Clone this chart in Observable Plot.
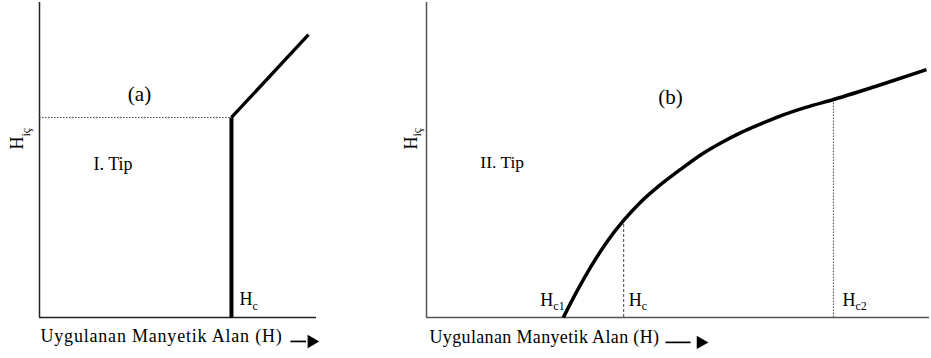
<!DOCTYPE html>
<html>
<head>
<meta charset="utf-8">
<script src="https://cdn.jsdelivr.net/npm/d3@7"></script>
<script src="https://cdn.jsdelivr.net/npm/@observablehq/plot@0.6"></script>
<style>
  body { margin: 0; background: #fff; }
  #row { display: flex; width: 931px; height: 358px; }
  #row svg { display: block; }
  .title-a text { letter-spacing: 0.8px; }
  .title-b text { letter-spacing: 0.35px; }
</style>
</head>
<body>
<div id="row"></div>
<script>
// Type I: internal field is zero up to Hc, then jumps and rises linearly
const typeI_H   = [69.3, 69.3, 97.1];
const typeI_Hic = [0, 63.5, 89.8];
const Hc_I = 69.3, HcI_Hic = 63.5;

// Type II: field starts penetrating at Hc1 and rises smoothly past Hc2
const typeII_H   = [27.2, 30.0, 32.6, 36.0, 39.2, 42.5, 46.1, 50.5, 54.5, 58.5, 62.4, 66.4, 70.4, 75.4, 80.9, 90.3, 99.4];
const typeII_Hic = [0, 8.6, 15.9, 24.3, 30.8, 36.5, 41.6, 47.0, 51.6, 55.4, 58.6, 61.4, 64.0, 66.7, 69.2, 73.9, 78.7];
const Hc1 = 27.2;
const Hc = 39.2, Hc_Hic = 30.8;
const Hc2 = 80.9, Hc2_Hic = 69.2;

// Text
const panelNames = ["(a)", "(b)"];
const typeNames = ["I. Tip", "II. Tip"];
const xTitle = "Uygulanan Manyetik Alan (H)";
const yMain = "H", ySub = "iç";

const ink = "#000";

const typeI = typeI_H.map((h, i) => ({H: h, Hic: typeI_Hic[i]}));
const typeII = typeII_H.map((h, i) => ({H: h, Hic: typeII_Hic[i]}));

const serif = "Liberation Serif";

function base(width, marginLeft, marginRight) {
  return {
    width, height: 358,
    marginLeft, marginRight, marginTop: 2, marginBottom: 41,
    x: {domain: [0, 100], axis: null},
    y: {domain: [0, 100], axis: null},
    style: {fontFamily: serif, fontSize: "17px", color: ink, background: "#fff", overflow: "visible"}
  };
}

const txt = (s, o) => Plot.text([s], {text: d => d, fill: ink, fontFamily: serif, ...o});

// Arrow after the x title: a short shaft with a solid head, in data units below the axis
const titleArrow = (x1, x2, y) => [
  Plot.link([0], {x1, x2: x2 - 2, y1: y, y2: y, stroke: ink, strokeWidth: 1.7}),
  Plot.dot([0], {x: x2, y, symbol: "triangle", rotate: 90, r: 5, fill: ink, stroke: null})
];

// (a) Type I panel
const left = Plot.plot({
  ...base(380, 39, 64),
  marks: [
    Plot.ruleX([0], {stroke: "#222", strokeWidth: 1.5}),
    Plot.ruleY([0], {stroke: "#222", strokeWidth: 1.5}),
    Plot.ruleY([HcI_Hic], {x1: 0, x2: Hc_I, stroke: "#444", strokeWidth: 1, strokeDasharray: "1.5,1.5"}),
    Plot.line(typeI.slice(0, 2), {x: "H", y: "Hic", stroke: ink, strokeWidth: 4, strokeLinecap: "butt"}),
    Plot.line(typeI.slice(1), {x: "H", y: "Hic", stroke: ink, strokeWidth: 3.3, strokeLinecap: "butt"}),
    txt(panelNames[0], {x: 36.1, y: 70.9, fontSize: 21}),
    txt(typeNames[0], {x: 19.5, y: 48.7, textAnchor: "start", fontSize: 18}),
    // Hc label beside the jump
    txt("H", {x: Hc_I, y: 0, dx: 8, dy: -18.4, textAnchor: "start", fontSize: 18}),
    txt("c", {x: Hc_I, y: 0, dx: 21, dy: -11.5, textAnchor: "start", fontSize: 12}),
    // y title
    txt(yMain, {x: 0, y: 53.3, dx: -22.4, rotate: -90, textAnchor: "start", fontSize: 18}),
    txt(ySub, {x: 0, y: 53.3, dx: -13.8, dy: -13, rotate: -90, textAnchor: "start", fontSize: 12}),
    // x title
    txt(xTitle, {frameAnchor: "bottom-left", dx: 1, dy: 24.6, textAnchor: "start", fontSize: 18, className: "title-a"}),
    ...titleArrow(90.6, 98.2, -7.6)
  ]
});

// (b) Type II panel
const right = Plot.plot({
  ...base(551, 46, 2),
  marks: [
    Plot.ruleX([0], {stroke: "#555", strokeWidth: 1.5}),
    Plot.ruleY([0], {stroke: "#555", strokeWidth: 1.5}),
    Plot.ruleX([Hc], {y1: 0, y2: Hc_Hic, stroke: "#444", strokeWidth: 1, strokeDasharray: "3,2"}),
    Plot.ruleX([Hc2], {y1: 0, y2: Hc2_Hic, stroke: "#444", strokeWidth: 1, strokeDasharray: "1.5,1.5"}),
    Plot.line(typeII, {x: "H", y: "Hic", stroke: ink, strokeWidth: 3.5, curve: "monotone-x", strokeLinecap: "butt"}),
    txt(panelNames[1], {x: 48.5, y: 70.0, fontSize: 21}),
    txt(typeNames[1], {x: 10.7, y: 49.3, textAnchor: "start", fontSize: 17.5}),
    // Hc1, Hc, Hc2 labels at the foot of each field
    txt("H", {x: Hc1, y: 0, dx: -23, dy: -17.4, textAnchor: "start", fontSize: 18}),
    txt("c1", {x: Hc1, y: 0, dx: -10, dy: -11.5, textAnchor: "start", fontSize: 12}),
    txt("H", {x: Hc, y: 0, dx: 5, dy: -17.4, textAnchor: "start", fontSize: 18}),
    txt("c", {x: Hc, y: 0, dx: 18, dy: -11.5, textAnchor: "start", fontSize: 12}),
    txt("H", {x: Hc2, y: 0, dx: 9, dy: -17.4, textAnchor: "start", fontSize: 18}),
    txt("c2", {x: Hc2, y: 0, dx: 22, dy: -11.5, textAnchor: "start", fontSize: 12}),
    // y title
    txt(yMain, {x: 0, y: 53.3, dx: -15.4, rotate: -90, textAnchor: "start", fontSize: 18}),
    txt(ySub, {x: 0, y: 53.3, dx: -9, dy: -13, rotate: -90, textAnchor: "start", fontSize: 12}),
    // x title
    txt(xTitle, {frameAnchor: "bottom-left", dx: 3, dy: 25.5, textAnchor: "start", fontSize: 18, className: "title-b"}),
    ...titleArrow(47.5, 54.5, -7.9)
  ]
});

const row = document.getElementById("row");
row.append(left, right);
</script>
</body>
</html>
